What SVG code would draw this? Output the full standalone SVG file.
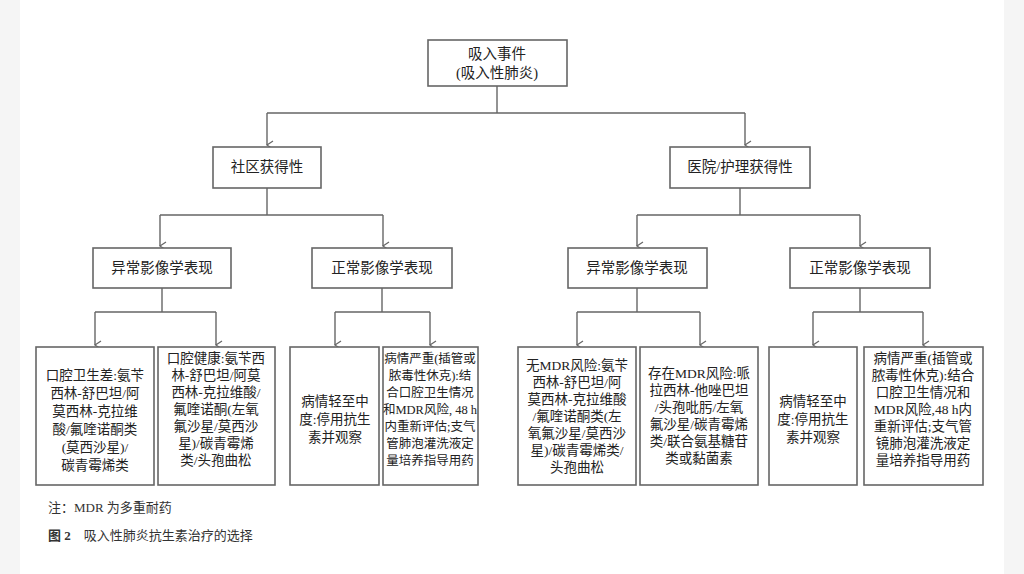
<svg xmlns="http://www.w3.org/2000/svg" width="1024" height="574" viewBox="0 0 1024 574">
<defs>
<style>
.b{fill:#fff;stroke:#666;stroke-width:1.6}
.t{font-family:"Liberation Serif","Noto Sans CJK SC",serif;font-size:13.5px;fill:#222;text-anchor:middle}
.h{font-size:14.5px}
.s{font-size:12.5px}
.c{fill:none;stroke:#666;stroke-width:1.4}
</style>
<marker id="a" markerWidth="10" markerHeight="10" refX="5" refY="8" orient="auto" markerUnits="userSpaceOnUse"><path d="M1,2 L5,8 L9,2" fill="none" stroke="#666" stroke-width="1.2"/></marker>
</defs>
<rect width="1024" height="574" fill="#f5f5f5"/>
<rect x="20" y="0" width="984" height="574" fill="#fff"/>
<g id="connectors" class="c">
<path d="M497,86 V113 M267,113 H745" />
<path d="M267,113 V145" marker-end="url(#a)"/>
<path d="M745,113 V145" marker-end="url(#a)"/>
<path d="M267,188 V215 M160,215 H383"/>
<path d="M160,215 V246" marker-end="url(#a)"/>
<path d="M383,215 V246" marker-end="url(#a)"/>
<path d="M740,188 V215 M637,215 H860"/>
<path d="M637,215 V246" marker-end="url(#a)"/>
<path d="M860,215 V246" marker-end="url(#a)"/>
<path d="M162,288 V312 M95,312 H216"/>
<path d="M95,312 V345" marker-end="url(#a)"/>
<path d="M216,312 V345" marker-end="url(#a)"/>
<path d="M382,288 V312 M335,312 H430"/>
<path d="M335,312 V345" marker-end="url(#a)"/>
<path d="M430,312 V345" marker-end="url(#a)"/>
<path d="M637,288 V312 M577,312 H700"/>
<path d="M577,312 V345" marker-end="url(#a)"/>
<path d="M700,312 V345" marker-end="url(#a)"/>
<path d="M860,288 V312 M813,312 H923"/>
<path d="M813,312 V345" marker-end="url(#a)"/>
<path d="M923,312 V345" marker-end="url(#a)"/>
</g>
<g id="n0"><rect class="b" x="428" y="40" width="139" height="46"/><text class="t h" x="497" y="59">吸入事件</text><text class="t h" x="497" y="78">(吸入性肺炎)</text></g>
<g id="n1"><rect class="b" x="213" y="147" width="108" height="41"/><text class="t h" x="267" y="172">社区获得性</text></g>
<g id="n2"><rect class="b" x="670" y="147" width="140" height="41"/><text class="t h" x="740" y="172">医院/护理获得性</text></g>
<g id="n3"><rect class="b" x="93" y="248" width="138" height="40"/><text class="t h" x="162" y="273">异常影像学表现</text></g>
<g id="n4"><rect class="b" x="312" y="248" width="140" height="40"/><text class="t h" x="382" y="273">正常影像学表现</text></g>
<g id="n5"><rect class="b" x="568" y="248" width="139" height="40"/><text class="t h" x="637" y="273">异常影像学表现</text></g>
<g id="n6"><rect class="b" x="790" y="248" width="140" height="40"/><text class="t h" x="860" y="273">正常影像学表现</text></g>
<g id="n7"><rect class="b" x="36" y="347" width="118" height="138"/><text class="t" x="95" y="380"><tspan x="95">口腔卫生差:氨苄</tspan><tspan x="95" dy="18">西林-舒巴坦/阿</tspan><tspan x="95" dy="18">莫西林-克拉维</tspan><tspan x="95" dy="18">酸/氟喹诺酮类</tspan><tspan x="95" dy="18">(莫西沙星)/</tspan><tspan x="95" dy="18">碳青霉烯类</tspan></text></g>
<g id="n8"><rect class="b" x="158" y="347" width="117" height="138"/><text class="t" x="216" y="363"><tspan x="216">口腔健康:氨苄西</tspan><tspan x="216" dy="17">林-舒巴坦/阿莫</tspan><tspan x="216" dy="17">西林-克拉维酸/</tspan><tspan x="216" dy="17">氟喹诺酮(左氧</tspan><tspan x="216" dy="17">氟沙星/莫西沙</tspan><tspan x="216" dy="17">星)/碳青霉烯</tspan><tspan x="216" dy="17">类/头孢曲松</tspan></text></g>
<g id="n9"><rect class="b" x="290" y="347" width="89" height="138"/><text class="t" x="335" y="406"><tspan x="335">病情轻至中</tspan><tspan x="335" dy="18">度:停用抗生</tspan><tspan x="335" dy="18">素并观察</tspan></text></g>
<g id="n10"><rect class="b" x="383" y="347" width="95" height="138"/><text class="t s" x="430" y="363"><tspan x="430">病情严重(插管或</tspan><tspan x="430" dy="17">脓毒性休克):结</tspan><tspan x="430" dy="17">合口腔卫生情况</tspan><tspan x="430" dy="17">和MDR风险, 48 h</tspan><tspan x="430" dy="17">内重新评估;支气</tspan><tspan x="430" dy="17">管肺泡灌洗液定</tspan><tspan x="430" dy="17">量培养指导用药</tspan></text></g>
<g id="n11"><rect class="b" x="518" y="347" width="118" height="138"/><text class="t" x="577" y="370"><tspan x="577">无MDR风险:氨苄</tspan><tspan x="577" dy="17">西林-舒巴坦/阿</tspan><tspan x="577" dy="17">莫西林-克拉维酸</tspan><tspan x="577" dy="17">/氟喹诺酮类(左</tspan><tspan x="577" dy="17">氧氟沙星/莫西沙</tspan><tspan x="577" dy="17">星)/碳青霉烯类/</tspan><tspan x="577" dy="17">头孢曲松</tspan></text></g>
<g id="n12"><rect class="b" x="640" y="347" width="118" height="138"/><text class="t" x="699" y="378"><tspan x="699">存在MDR风险:哌</tspan><tspan x="699" dy="17">拉西林-他唑巴坦</tspan><tspan x="699" dy="17">/头孢吡肟/左氧</tspan><tspan x="699" dy="17">氟沙星/碳青霉烯</tspan><tspan x="699" dy="17">类/联合氨基糖苷</tspan><tspan x="699" dy="17">类或黏菌素</tspan></text></g>
<g id="n13"><rect class="b" x="769" y="347" width="88" height="138"/><text class="t" x="813" y="406"><tspan x="813">病情轻至中</tspan><tspan x="813" dy="18">度:停用抗生</tspan><tspan x="813" dy="18">素并观察</tspan></text></g>
<g id="n14"><rect class="b" x="864" y="347" width="119" height="138"/><text class="t" x="923" y="363"><tspan x="923">病情严重(插管或</tspan><tspan x="923" dy="17">脓毒性休克):结合</tspan><tspan x="923" dy="17">口腔卫生情况和</tspan><tspan x="923" dy="17">MDR风险,48 h内</tspan><tspan x="923" dy="17">重新评估;支气管</tspan><tspan x="923" dy="17">镜肺泡灌洗液定</tspan><tspan x="923" dy="17">量培养指导用药</tspan></text></g>
<text x="48" y="512" style="font-family:'Liberation Serif','Noto Sans CJK SC',serif;font-size:13px;fill:#333">注：MDR 为多重耐药</text>
<text x="48" y="540" style="font-family:'Liberation Serif','Noto Sans CJK SC',serif;font-size:13px;fill:#333"><tspan font-weight="bold">图 2</tspan>　吸入性肺炎抗生素治疗的选择</text>
</svg>
